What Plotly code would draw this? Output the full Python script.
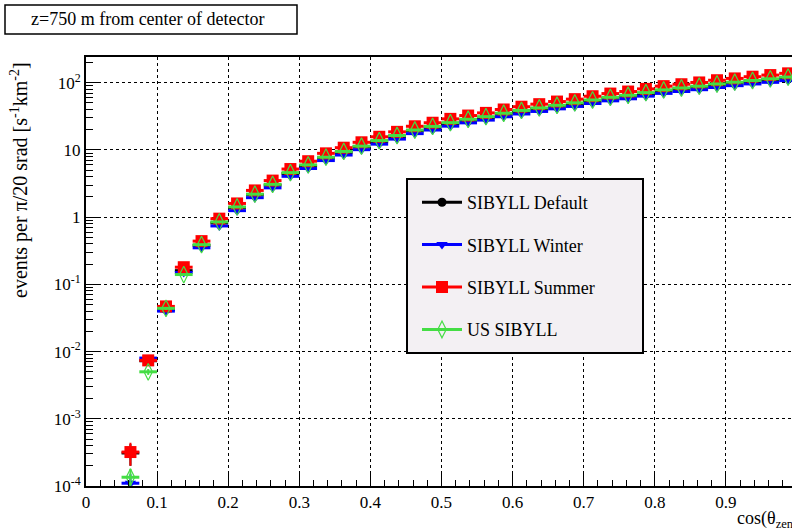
import plotly.graph_objects as go

# ---------------- data ----------------
cos_zen = [0.0625, 0.0875, 0.1125, 0.1375, 0.1625, 0.1875, 0.2125, 0.2375, 0.2625, 0.2875,
           0.3125, 0.3375, 0.3625, 0.3875, 0.4125, 0.4375, 0.4625, 0.4875, 0.5125, 0.5375,
           0.5625, 0.5875, 0.6125, 0.6375, 0.6625, 0.6875, 0.7125, 0.7375, 0.7625, 0.7875,
           0.8125, 0.8375, 0.8625, 0.8875, 0.9125, 0.9375, 0.9625, 0.9875]

sibyll_default = [3.1e-4, 7.3e-3, 0.042, 0.16, 0.38, 0.82, 1.38, 2.15, 3.0, 4.45,
                  5.8, 7.6, 9.2, 11.1, 13.4, 15.9, 19.2, 21.7, 24.7, 27.7,
                  30.4, 34.1, 37.5, 41.0, 44.8, 48.6, 53.8, 58.9, 63.2, 69.1,
                  76.0, 81.1, 86.2, 93.0, 99.0, 105.0, 111.0, 117.8]
sibyll_winter = [1.1e-4, 8.0e-3, 0.040, 0.15, 0.35, 0.74, 1.25, 1.95, 2.73, 4.05,
                 5.3, 6.95, 8.4, 10.1, 12.2, 14.5, 17.5, 19.8, 22.6, 25.3,
                 27.8, 31.2, 34.3, 37.4, 40.9, 44.4, 49.1, 53.8, 57.7, 63.2,
                 69.4, 74.1, 78.8, 85.0, 90.5, 96.0, 101.4, 107.6]
sibyll_summer = [3.2e-4, 7.4e-3, 0.047, 0.18, 0.44, 0.95, 1.6, 2.5, 3.5, 5.2,
                 6.8, 8.9, 10.8, 13.0, 15.7, 18.6, 22.5, 25.4, 29.0, 32.5,
                 35.6, 40.0, 44.0, 48.0, 52.5, 57.0, 63.0, 69.0, 74.0, 81.0,
                 89.0, 95.0, 101.0, 109.0, 116.0, 123.0, 130.0, 138.0]
us_sibyll = [1.35e-4, 5.0e-3, 0.044, 0.14, 0.39, 0.85, 1.42, 2.2, 3.08, 4.6,
             6.0, 7.8, 9.5, 11.4, 13.8, 16.4, 19.8, 22.4, 25.5, 28.6,
             31.3, 35.2, 38.7, 42.2, 46.2, 50.2, 55.4, 60.7, 65.1, 71.3,
             78.3, 83.6, 88.9, 95.9, 102.0, 108.0, 114.4, 121.4]

# statistical (vertical) errors, visible only for the first bins
err_default = [1.1e-4, 6e-4, 2e-3] + [0] * 35
err_winter = [4e-5, 6e-4, 2e-3] + [0] * 35
err_summer = [1.2e-4, 6e-4, 2e-3] + [0] * 35
err_us = [4.5e-5, 5e-4, 2e-3] + [0] * 35
half_bin = 0.0125

series_names = ["SIBYLL Default", "SIBYLL Winter", "SIBYLL Summer", "US SIBYLL"]

x_tickvals = [0, 0.1, 0.2, 0.3, 0.4, 0.5, 0.6, 0.7, 0.8, 0.9]
x_ticktext = ["0", "0.1", "0.2", "0.3", "0.4", "0.5", "0.6", "0.7", "0.8", "0.9"]
y_tickvals = [1e-4, 1e-3, 1e-2, 1e-1, 1, 10, 100]
y_ticktext = ["10<sup>-4</sup>", "10<sup>-3</sup>", "10<sup>-2</sup>", "10<sup>-1</sup>",
              "1", "10", "10<sup>2</sup>"]
y_minor = [m * 10 ** e for e in range(-4, 3) for m in range(2, 10)]

# ---------------- layout geometry (pixels) ----------------
W, H = 792, 532
L, R, T, B = 86, 792, 57, 486


def px(x):
    return (x - L) / (R - L)


def py(y):
    return (B - y) / (B - T)


FONT = "Liberation Serif"

styles = [
    dict(color="black", symbol="circle", size=9, lw=0),
    dict(color="#0000ff", symbol="triangle-down", size=10, lw=0),
    dict(color="#ff0000", symbol="square", size=12, lw=0),
    dict(color="#44dd44", symbol="diamond-tall-open", size=12, lw=1.2),
]
values = [sibyll_default, sibyll_winter, sibyll_summer, us_sibyll]
errors = [err_default, err_winter, err_summer, err_us]

fig = go.Figure()
for name, vals, errs, st in zip(series_names, values, errors, styles):
    fig.add_trace(go.Scatter(
        x=cos_zen, y=vals, mode="markers", name=name, showlegend=False,
        marker=dict(color=st["color"], symbol=st["symbol"], size=st["size"],
                    line=dict(color=st["color"], width=st["lw"])),
        error_x=dict(type="constant", value=half_bin, color=st["color"], thickness=3, width=0),
        error_y=dict(type="data", array=errs, color=st["color"], thickness=2, width=0),
    ))

# legend-only entries (line + marker)
for i, (name, st) in enumerate(zip(series_names, styles)):
    fig.add_trace(go.Scatter(
        x=[None], y=[None], mode="lines+markers", name=name, legendgroup=f"g{i}",
        line=dict(color=st["color"], width=3),
        marker=dict(color=st["color"], symbol=st["symbol"], size=st["size"],
                    line=dict(color=st["color"], width=st["lw"])),
    ))

fig.update_layout(
    width=W, height=H,
    margin=dict(l=L, r=W - R, t=T, b=H - B, pad=0),
    paper_bgcolor="white", plot_bgcolor="white",
    font=dict(family=FONT, size=16, color="black"),
    showlegend=True,
    legend=dict(x=px(417), y=py(184), xanchor="left", yanchor="top",
                bgcolor="rgba(0,0,0,0)", borderwidth=0,
                font=dict(family=FONT, size=18, color="black"),
                itemwidth=40, tracegroupgap=16, traceorder="grouped"),
    xaxis=dict(range=[0, 0.993], showline=True, linecolor="black", linewidth=2, mirror=True,
               tickmode="array", tickvals=x_tickvals, ticktext=x_ticktext,
               ticks="inside", ticklen=12, tickwidth=1, tickcolor="black",
               minor=dict(ticks="inside", ticklen=6, dtick=0.02, tick0=0, tickcolor="black",
                          showgrid=False),
               showgrid=True, gridcolor="black", gridwidth=1, griddash="dot",
               zeroline=False, tickfont=dict(family=FONT, size=17)),
    yaxis=dict(type="log", range=[-4, 2.383], showline=True, linecolor="black", linewidth=2,
               mirror=False,
               tickmode="array", tickvals=y_tickvals, ticktext=y_ticktext,
               ticks="inside", ticklen=12, tickwidth=1, tickcolor="black",
               minor=dict(ticks="inside", ticklen=7, tickmode="array", tickvals=y_minor,
                          tickcolor="black", showgrid=False),
               showgrid=True, gridcolor="black", gridwidth=1, griddash="dot",
               zeroline=False, tickfont=dict(family=FONT, size=17)),
    shapes=[
        # legend box
        dict(type="rect", xref="paper", yref="paper", x0=px(407), x1=px(643),
             y0=py(353), y1=py(179), fillcolor="#f3f0f3",
             line=dict(color="black", width=2), layer="above"),
        # title box
        dict(type="rect", xref="paper", yref="paper", x0=px(5), x1=px(297),
             y0=py(34), y1=py(5), fillcolor="white",
             line=dict(color="black", width=1.5), layer="above"),
    ],
    annotations=[
        dict(text="z=750 m from center of detector", xref="paper", yref="paper",
             x=px(148), y=py(19.5), xanchor="center", yanchor="middle", showarrow=False,
             font=dict(family=FONT, size=18, color="black")),
        dict(text="events per π/20 srad [s<sup>-1</sup>km<sup>-2</sup>]", xref="paper",
             yref="paper", x=px(20), y=py(180), xanchor="center", yanchor="middle",
             textangle=-90, showarrow=False, font=dict(family=FONT, size=20, color="black")),
        dict(text="cos(θ<sub>zen</sub>)", xref="paper", yref="paper",
             x=px(735), y=py(519), xanchor="left", yanchor="middle", showarrow=False,
             font=dict(family=FONT, size=18, color="black")),
    ],
)

fig.write_html("out.html")
